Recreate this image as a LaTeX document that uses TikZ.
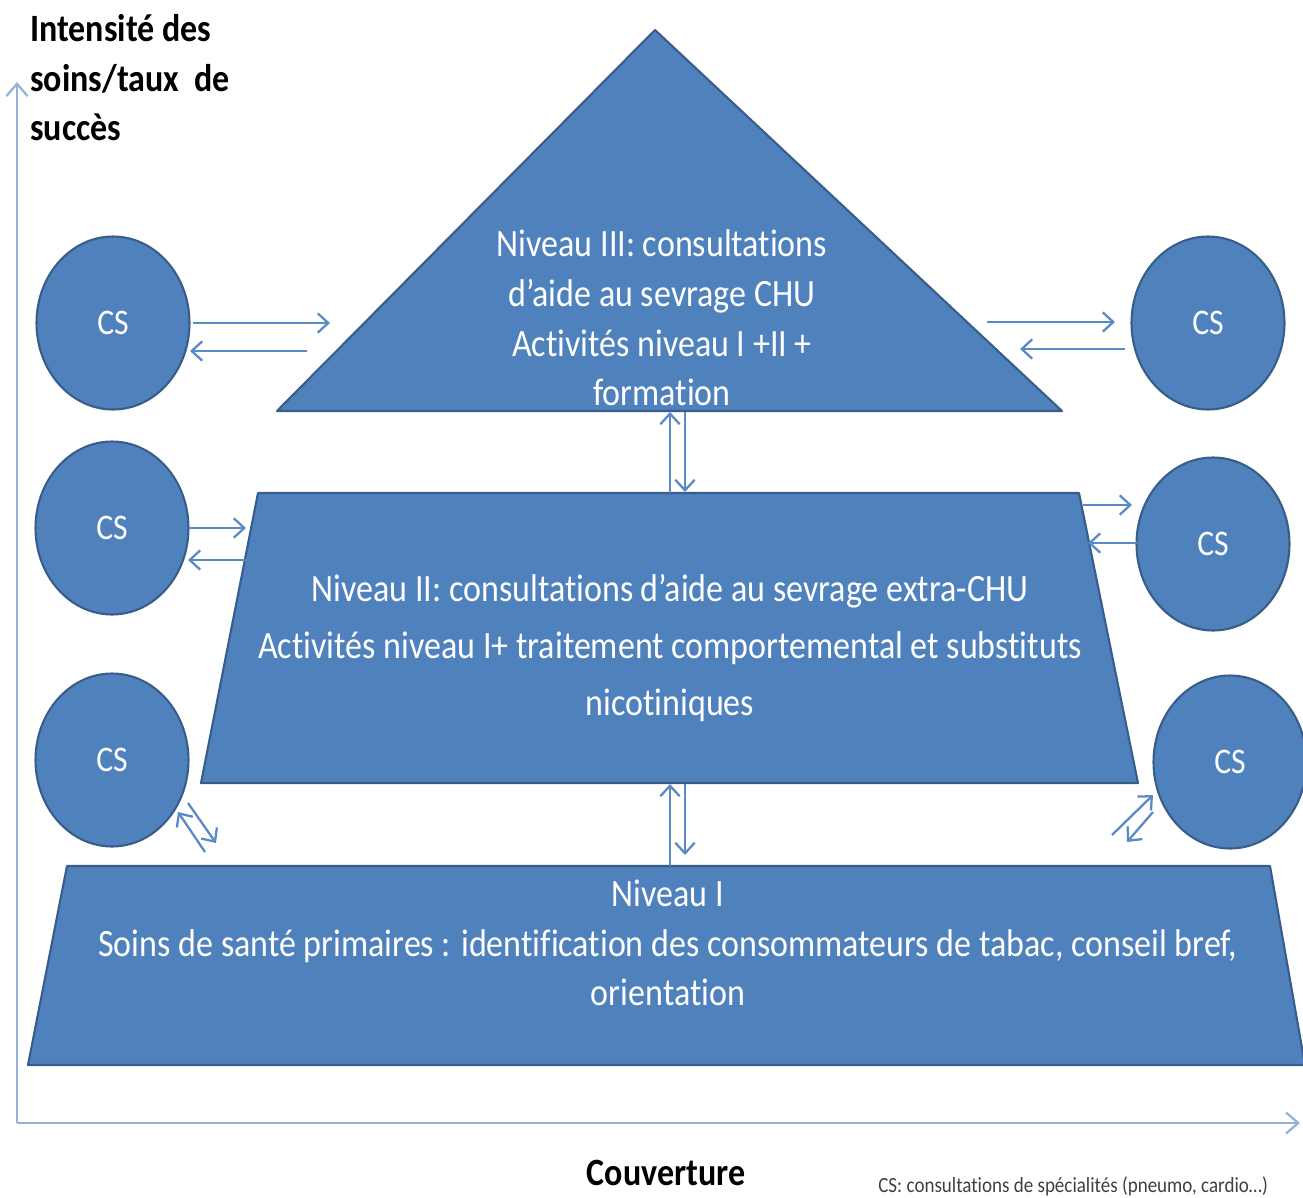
\documentclass[tikz,border=0pt]{standalone}
\usepackage{fontspec}
\setmainfont{Carlito}[FakeStretch=0.88,Ligatures=CommonOff]
\usetikzlibrary{arrows.meta,shapes.geometric}
\definecolor{fillblue}{HTML}{4F81BD}
\definecolor{edgeblue}{HTML}{385D8A}
\definecolor{arrblue}{HTML}{5A8AC6}
\definecolor{axisblue}{HTML}{95B3D7}
\definecolor{notegray}{HTML}{404040}
\tikzset{
  shapefill/.style={fill=fillblue,draw=edgeblue,line width=1.2pt,line join=round},
  csnode/.style={ellipse,fill=fillblue,draw=edgeblue,line width=1.2pt,minimum width=3.06cm,minimum height=3.46cm,inner sep=0pt,text=white,font=\fontsize{20.5}{24}\selectfont},
  lvltext/.style={text=white,align=center,font=\fontsize{22}{28.3}\selectfont},
  conn/.style={draw=arrblue,line width=1.3pt,-{Straight Barb[length=6pt,width=11pt,line width=1.3pt]}},
  axis/.style={draw=axisblue,line width=1.6pt,-{Straight Barb[length=7pt,width=12pt,line width=1.3pt]}},
  axtitle/.style={text=black,font=\bfseries\fontsize{22}{28.3}\selectfont},
}
\begin{document}
\begin{tikzpicture}[x=0.02cm,y=-0.02cm]
\useasboundingbox (0,0) rectangle (1303,1198);
% axes
\coordinate (origin) at (17,1123);
\coordinate (ytop) at (17,82);
\coordinate (xend) at (1300,1123);
\draw[axis] (origin) -- (ytop);
\draw[axis] (origin) -- (xend);
% shapes
\coordinate (t1) at (655,30);
\coordinate (t2) at (1062,411);
\coordinate (t3) at (277,411);
\draw[shapefill] (t1) -- (t2) -- (t3) -- cycle;
\coordinate (m1) at (258,493);
\coordinate (m2) at (1079,493);
\coordinate (m3) at (1138,783);
\coordinate (m4) at (201,783);
\draw[shapefill] (m1) -- (m2) -- (m3) -- (m4) -- cycle;
\coordinate (b1) at (67,866);
\coordinate (b2) at (1270,866);
\coordinate (b3) at (1305,1065);
\coordinate (b4) at (28,1065);
\draw[shapefill] (b1) -- (b2) -- (b3) -- (b4) -- cycle;
% texts
\node[lvltext] (n3) at (662,318) {Niveau III: consultations\\d’aide au sevrage CHU\\Activités niveau I +II +\\formation};
\node[lvltext,font=\fontsize{22}{32.3}\selectfont] (n2) at (670,648) {Niveau II: consultations d’aide au sevrage extra-CHU\\Activités niveau I+ traitement comportemental et substituts\\nicotiniques};
\node[lvltext] (n1) at (668,943) {Niveau I\\Soins de santé primaires : identification des consommateurs de tabac, conseil bref,\\orientation};
% circles
\node[csnode] (csl1) at (113,323) {CS};
\node[csnode] (csl2) at (112,528) {CS};
\node[csnode] (csl3) at (112,760) {CS};
\node[csnode] (csr1) at (1208,323) {CS};
\node[csnode] (csr2) at (1213,544) {CS};
\node[csnode] (csr3) at (1230,762) {CS};
% connectors top
\coordinate (a1s) at (193,323); \coordinate (a1e) at (330,323);
\coordinate (a2s) at (307,351); \coordinate (a2e) at (190,351);
\draw[conn] (a1s) -- (a1e);
\draw[conn] (a2s) -- (a2e);
\coordinate (a3s) at (987,322); \coordinate (a3e) at (1115,322);
\coordinate (a4s) at (1125,349); \coordinate (a4e) at (1020,349);
\draw[conn] (a3s) -- (a3e);
\draw[conn] (a4s) -- (a4e);
% connectors middle
\coordinate (a5s) at (190,528); \coordinate (a5e) at (246,528);
\coordinate (a6s) at (247,560); \coordinate (a6e) at (188,560);
\draw[conn] (a5s) -- (a5e);
\draw[conn] (a6s) -- (a6e);
\coordinate (a7s) at (1083,505); \coordinate (a7e) at (1132,505);
\coordinate (a8s) at (1137,543); \coordinate (a8e) at (1088,543);
\draw[conn] (a7s) -- (a7e);
\draw[conn] (a8s) -- (a8e);
% connectors bottom diagonal
\coordinate (a9s) at (205,852); \coordinate (a9e) at (178,812);
\coordinate (a10s) at (188,803); \coordinate (a10e) at (216,843);
\draw[conn] (a9s) -- (a9e);
\draw[conn] (a10s) -- (a10e);
\coordinate (a11s) at (1112,835); \coordinate (a11e) at (1153,795);
\coordinate (a12s) at (1153,812); \coordinate (a12e) at (1127,842);
\draw[conn] (a11s) -- (a11e);
\draw[conn] (a12s) -- (a12e);
% vertical connectors
\coordinate (v1s) at (670,493); \coordinate (v1e) at (670,412);
\coordinate (v2s) at (685,412); \coordinate (v2e) at (685,492);
\draw[conn] (v1s) -- (v1e);
\draw[conn] (v2s) -- (v2e);
\coordinate (v3s) at (670,866); \coordinate (v3e) at (670,784);
\coordinate (v4s) at (685,784); \coordinate (v4e) at (685,855);
\draw[conn] (v3s) -- (v3e);
\draw[conn] (v4s) -- (v4e);
% axis labels
\node[axtitle,anchor=north west,align=left,inner sep=0pt] (ylab) at (30,14) {Intensité des\\soins/taux~~de\\succès};
\node[axtitle] (xlab) at (666,1173) {Couverture};
\node[text=notegray,font=\fontsize{12.3}{14}\selectfont,anchor=west,inner sep=0pt] (note) at (878,1186) {CS: consultations de spécialités (pneumo, cardio…)};
\end{tikzpicture}
\end{document}
